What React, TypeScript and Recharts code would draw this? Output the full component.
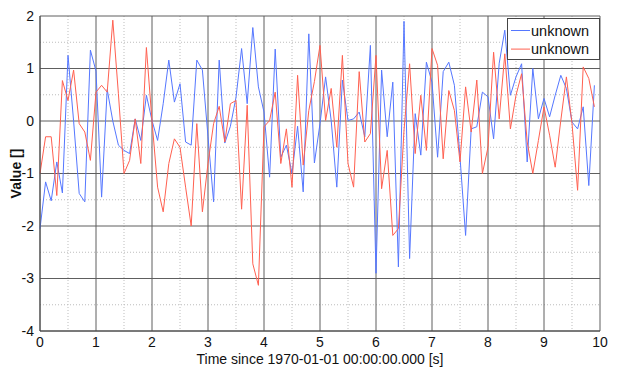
import React from 'react'
import { LineChart, Line, XAxis, YAxis, CartesianGrid, Legend } from 'recharts'

// samples every 0.1 s, t = 0 .. 9.9
const sampleStep = 0.1

const blueValues = [
	-2.05, -1.16, -1.52, -0.78, -1.37, 1.25, 0.0, -1.38, -1.54, 1.35,
	0.95, -1.45, 0.6, 0.0, -0.46, -0.56, -0.62, 0.04, -0.37, 0.49,
	0.01, -0.37, 0.33, 1.16, 0.36, 0.71, -0.4, -0.46, 1.16, 0.97,
	-0.3, -1.54, 1.16, -0.42, -0.1, 0.45, 1.38, 0.33, 1.78, 0.65,
	0.17, -1.07, 1.37, -0.69, -0.46, -1.0, -0.1, -1.35, 1.66, -0.8,
	-0.05, 0.84, 0.01, -1.26, 0.78, 0.01, 0.04, 0.17, -0.3, 1.44,
	-2.9, 0.97, -0.3, 0.74, -2.78, 1.9, -2.62, 0.14, -0.65, 1.12,
	0.74, -0.69, 0.94, 1.12, 0.68, -0.69, -2.18, -0.15, -0.11, 0.55,
	0.46, -0.34, 1.1, 1.73, 0.49, 0.84, 1.09, -0.78, 1.0, 0.04,
	0.43, 0.08, 0.49, 0.87, 0.62, -0.02, -0.15, 0.27, -1.23, 0.68,
]

const redValues = [
	-1.0, -0.3, -0.3, -1.42, 0.77, 0.39, 0.97, -0.05, -0.21, -0.75,
	0.55, 0.68, 0.55, 1.92, 0.52, -1.0, -0.75, 0.04, -0.81, 1.4,
	0.0, -1.26, -1.73, -0.81, -0.34, -0.5, -1.26, -2.0, -0.05, -1.73,
	-0.81, -0.05, 0.28, -0.4, 0.33, 0.39, -1.68, 0.3, -2.72, -3.13,
	-0.11, 0.01, 0.55, -0.81, -0.15, -1.26, 0.87, -0.84, 0.2, 0.75,
	1.44, 0.01, 0.62, -0.5, 1.25, -0.81, -1.26, 0.94, -0.4, -0.24,
	1.25, -1.29, -0.56, -2.18, -2.05, -0.18, 1.09, -0.62, 0.49, -0.56,
	1.38, 1.06, -0.72, 0.58, 0.2, -0.78, 0.65, -0.21, 0.78, -1.0,
	-0.5, 1.31, 0.04, 1.28, -0.15, 0.49, 0.9, -0.4, -1.0, -0.37,
	0.27, -0.27, -0.88, 0.01, 0.84, -0.05, -1.32, 1.03, 0.81, 0.27,
]

const seriesNames = ['unknown', 'unknown']
const xTicks = [0, 1, 2, 3, 4, 5, 6, 7, 8, 9, 10]
const yTicks = [-4, -3, -2, -1, 0, 1, 2]
const xMinor = [0.5, 1.5, 2.5, 3.5, 4.5, 5.5, 6.5, 7.5, 8.5, 9.5]
const yMinor = [-3.5, -2.5, -1.5, -0.5, 0.5, 1.5]

const data = blueValues.map((v, i) => ({
	t: Math.round(i * sampleStep * 10) / 10,
	blue: v,
	red: redValues[i],
}))

const font = '"Liberation Sans", Arial, Helvetica, sans-serif'

const LegendBox = ({ payload }: any) => (
	<svg width={93} height={42} style={{ display: 'block' }}>
		<rect x={0.5} y={0.5} width={92} height={41} fill="#fff" stroke="#444" />
		{(payload || []).map((p: any, i: number) => (
			<g key={i}>
				<line x1={4} x2={23} y1={12.5 + i * 18.6} y2={12.5 + i * 18.6} stroke={p.color} strokeWidth={1} />
				<text x={24} y={12.5 + i * 18.6} dy="0.35em" fontSize={14.5} fontFamily={font} fill="#111">
					{p.value}
				</text>
			</g>
		))}
	</svg>
)

const App = () => {
	return (
		<div style={{ width: 600, height: 360, fontFamily: font }}>
			<LineChart width={600} height={360} data={data} margin={{ top: 8, right: 8, bottom: 0, left: 0 }}>
				<CartesianGrid
					verticalValues={xMinor}
					horizontalValues={yMinor}
					stroke="#bdbdbd"
					strokeDasharray="1 2"
				/>
				<CartesianGrid verticalValues={xTicks} horizontalValues={yTicks} stroke="#5e5e5e" />
				<XAxis
					type="number"
					dataKey="t"
					domain={[0, 10]}
					ticks={xTicks}
					interval={0}
					height={37}
					tickSize={4}
					tickMargin={2}
					tickLine={false}
					axisLine={{ stroke: '#444' }}
					tick={{ fontSize: 14, fill: '#111', fontFamily: font }}
					label={{ value: 'Time since 1970-01-01 00:00:00.000 [s]', position: 'insideBottom', offset: 4, fontSize: 14, fill: '#111', fontFamily: font }}
				/>
				<YAxis
					type="number"
					domain={[-4, 2]}
					ticks={yTicks}
					interval={0}
					width={32}
					tickSize={4}
					tickMargin={2}
					tickLine={false}
					axisLine={{ stroke: '#444' }}
					tick={{ fontSize: 14, fill: '#111', fontFamily: font }}
					label={{ value: 'Value []', angle: -90, position: 'insideLeft', offset: 8, fontSize: 14, fontWeight: 'bold', fill: '#111', fontFamily: font, style: { textAnchor: 'middle' } }}
				/>
				<Legend
					layout="vertical"
					align="center"
					verticalAlign="middle"
					wrapperStyle={{ top: 10, left: 499, width: 93, height: 42 }}
					content={LegendBox}
				/>
				<Line type="linear" dataKey="blue" name={seriesNames[0]} stroke="#5577ff" strokeWidth={1} dot={false} isAnimationActive={false} />
				<Line type="linear" dataKey="red" name={seriesNames[1]} stroke="#ff6050" strokeWidth={1} dot={false} isAnimationActive={false} />
			</LineChart>
		</div>
	)
}

export default App
